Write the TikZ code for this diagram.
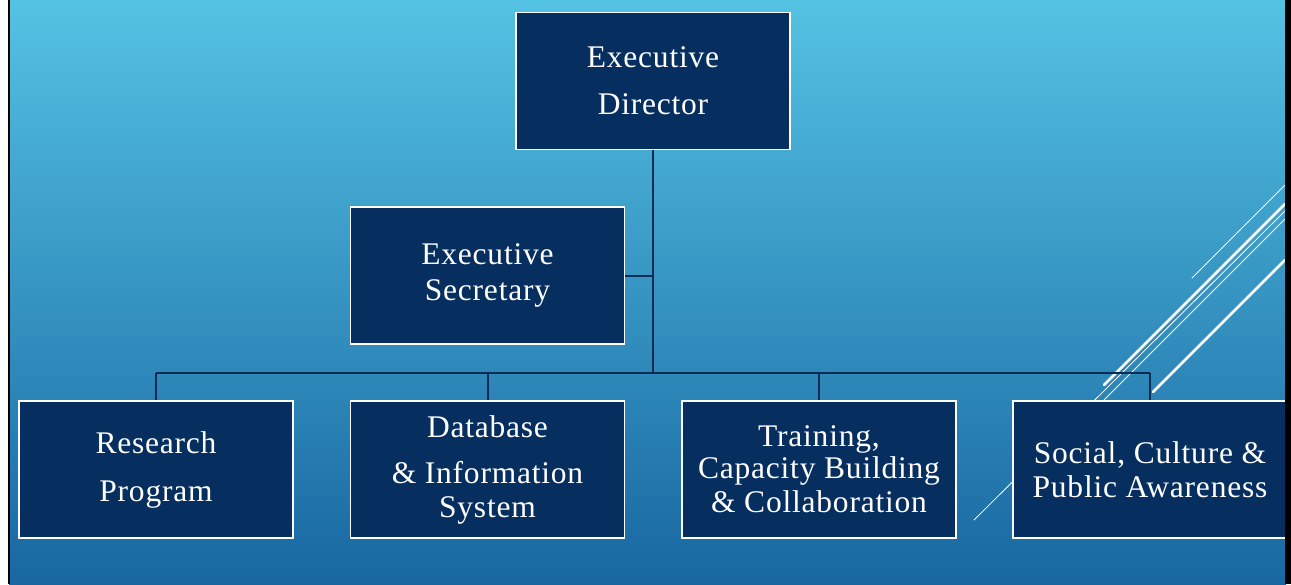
\documentclass[tikz,border=0pt]{standalone}
\usepackage{fontspec}
\setmainfont{Liberation Serif}[LetterSpace=2.5]
\definecolor{navy}{HTML}{062E5F}
\definecolor{conncol}{HTML}{0B2B55}
\definecolor{bgtop}{HTML}{54C2E3}
\definecolor{bgbot}{HTML}{1867A1}
\begin{document}
\begin{tikzpicture}[x=1pt,y=-1pt,
  orgbox/.style={draw=white, line width=1.2pt, fill=navy, text=white,
    minimum width=274pt, minimum height=137pt, align=center, inner sep=0pt,
    font=\fontsize{31.5}{36}\selectfont},
  conn/.style={draw=conncol, line width=2pt},
  deco/.style={draw=white, line cap=round},
  thindeco/.style={deco, line width=0.8pt},
  thickdeco/.style={deco, line width=2.6pt}]
\useasboundingbox (0,0) rectangle (1291,584);
\fill[white] (0,0) rectangle (1291,584);
\shade[top color=bgtop, bottom color=bgbot] (9,0) rectangle (1286,584);

% decorative lines
\draw[thindeco] (1192,278) -- (1285,185);
\draw[thickdeco] (1104,385) -- (1285,204);
\draw[thindeco] (974,520) -- (1285,211);
\draw[thindeco] (1104,400) -- (1285,219);
\draw[thickdeco] (1153,392) -- (1285,260);

% boxes
\node[orgbox] (dir) at (653,81) {Executive\\[11pt]Director};
\node[orgbox] (sec) at (487.5,275.5) {Executive\\Secretary};
\node[orgbox] (r1) at (156,469.5) {Research\\[12pt]Program};
\node[orgbox] (r2) at (487.5,469.5) {Database\\[10pt]\& Information\\[-2pt]System};
\node[orgbox] (r3) at (819,469.5) {Training,\\[-4pt]Capacity Building\\[-2pt]\& Collaboration};
\node[orgbox] (r4) at (1150,469.5) {Social, Culture \&\\[-2pt]Public Awareness};

% connectors
\coordinate (busy) at (0,373);
\coordinate (bus) at (dir.south |- busy);
\draw[conn] (dir.south) -- (bus);
\draw[conn] (sec.east) -- (sec.east -| dir.south);
\draw[conn] (r1.north |- bus) -- (r4.north |- bus);
\foreach \n in {r1,r2,r3,r4} \draw[conn] (\n.north) -- (\n.north |- bus);

% frame edges
\fill[black] (8,0) rectangle (10,584);
\fill[black] (1285,0) rectangle (1291,584);
\end{tikzpicture}
\end{document}
